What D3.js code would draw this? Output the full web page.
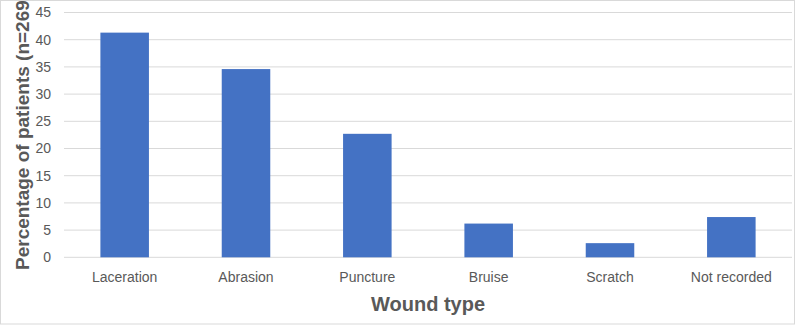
<!DOCTYPE html>
<html><head><meta charset="utf-8">
<script src="https://cdn.jsdelivr.net/npm/d3@7"></script>
<style>body{margin:0;background:#fff}svg{display:block;font-family:"Liberation Sans",Arial,sans-serif}</style>
</head><body><svg id="c" width="800" height="325"></svg>
<script>
const categories = ["Laceration","Abrasion","Puncture","Bruise","Scratch","Not recorded"];
const values = [41.3, 34.6, 22.7, 6.2, 2.6, 7.4];
const yTicks = [0,5,10,15,20,25,30,35,40,45];
const xTitle = "Wound type";
const yTitle = "Percentage of patients (n=269)";

(function(){
const svg = d3.select("#c");
const mLeft = 64, mRight = 792, mTop = 12.5, mBottom = 257.3;
svg.append("rect").attr("x",0.5).attr("y",0.5).attr("width",794).attr("height",323.5)
  .attr("fill","#fff").attr("stroke","#d9d9d9");
const x = d3.scaleBand().domain(categories).range([mLeft,mRight]).paddingInner(0.6).paddingOuter(0.3);
const y = d3.scaleLinear().domain([0,45]).range([mBottom,mTop]);

svg.append("g").selectAll("line").data(yTicks).join("line")
  .attr("x1",mLeft).attr("x2",mRight).attr("y1",d=>y(d)).attr("y2",d=>y(d))
  .attr("stroke","#d9d9d9").attr("stroke-width",1);

svg.append("g").selectAll("text").data(yTicks).join("text")
  .attr("x",51).attr("y",d=>y(d)).attr("dy","0.35em").attr("text-anchor","end")
  .attr("font-size",14).attr("fill","#595959").text(d=>d);

svg.append("g").selectAll("rect").data(values).join("rect")
  .attr("x",(d,i)=>x(categories[i])).attr("width",x.bandwidth())
  .attr("y",d=>y(d)).attr("height",d=>y(0)-y(d)).attr("fill","#4472C4");

svg.append("g").selectAll("text").data(categories).join("text")
  .attr("x",d=>x(d)+x.bandwidth()/2).attr("y",282).attr("text-anchor","middle")
  .attr("font-size",14).attr("fill","#595959").text(d=>d);

svg.append("text").attr("x",(mLeft+mRight)/2).attr("y",311).attr("text-anchor","middle")
  .attr("font-size",20).attr("font-weight","bold").attr("fill","#595959").text(xTitle);

svg.append("text").attr("transform","translate(29,270) rotate(-90)").attr("text-anchor","start")
  .attr("font-size",19).attr("font-weight","bold").attr("fill","#595959").text(yTitle);
})();
</script></body></html>
